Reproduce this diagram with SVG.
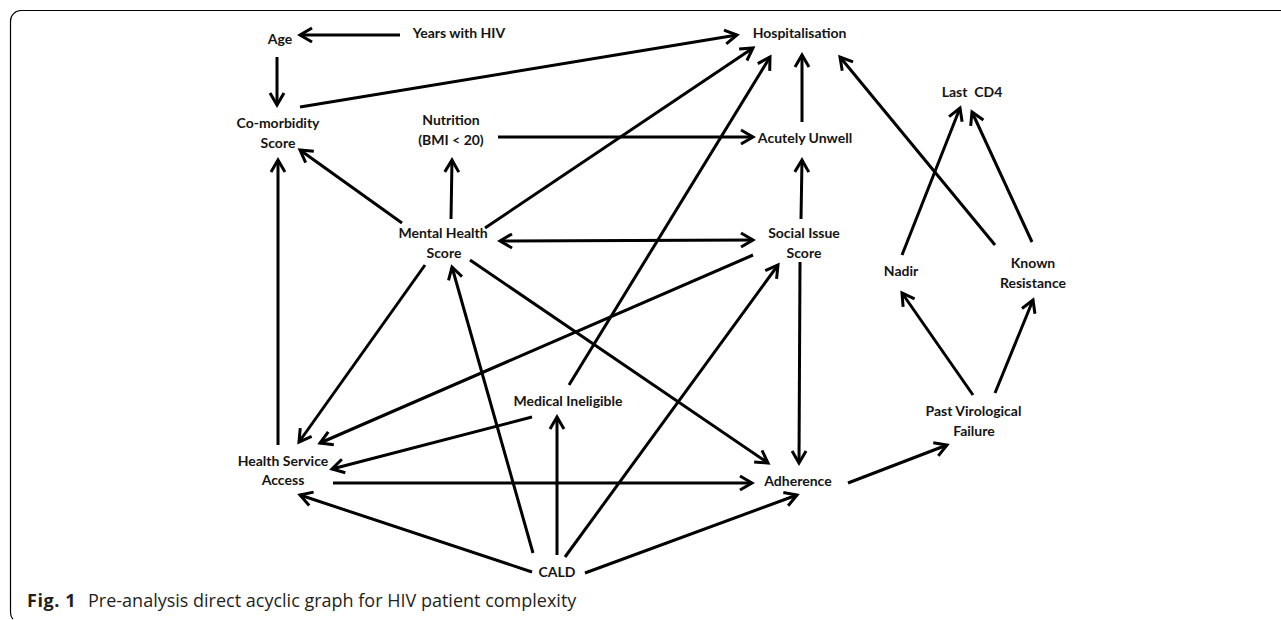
<svg xmlns="http://www.w3.org/2000/svg" width="1281" height="620" viewBox="0 0 1281 620">
<style>
.n text{font-family:Lato,"Liberation Sans",sans-serif;font-weight:bold;font-size:14px;fill:#141414;text-anchor:middle;white-space:pre}
.e line{stroke:#000;stroke-width:3;fill:none;marker-end:url(#ah)}
.cap{font-family:"Open Sans","Noto Sans",sans-serif;font-size:18px;fill:#231f20}
</style>
<defs>
<marker id="ah" markerUnits="userSpaceOnUse" viewBox="-16 -10 20 20" markerWidth="20" markerHeight="20" refX="0" refY="0" orient="auto-start-reverse">
<path d="M-12,-7 L0,0 L-12,7" fill="none" stroke="#000" stroke-width="3"/>
</marker>
</defs>
<rect width="1281" height="620" fill="#fff"/>
<path d="M1281,10.5 H21 A10.5,10.5 0 0 0 10.5,21 V611 Q10.5,617 13,619" fill="none" stroke="#000" stroke-width="1.2"/>
<g class="e" id="connectors">
<line x1="400" y1="35" x2="300" y2="35"/>
<line x1="277" y1="57" x2="277" y2="105"/>
<line x1="300" y1="107" x2="737" y2="35"/>
<line x1="402" y1="223" x2="300" y2="150"/>
<line x1="451" y1="219" x2="452" y2="160"/>
<line x1="485" y1="228" x2="753" y2="48"/>
<line x1="498" y1="137" x2="753" y2="137"/>
<line x1="802" y1="122" x2="802" y2="55"/>
<line x1="801" y1="219" x2="802" y2="160"/>
<line x1="500" y1="241" x2="753" y2="240" marker-start="url(#ah)"/>
<line x1="569" y1="385" x2="770" y2="57"/>
<line x1="995" y1="245" x2="840" y2="57"/>
<line x1="902" y1="255" x2="960" y2="108"/>
<line x1="1032" y1="242" x2="972" y2="112"/>
<line x1="973" y1="395" x2="902" y2="293"/>
<line x1="995" y1="393" x2="1033" y2="300"/>
<line x1="848" y1="483" x2="947" y2="445"/>
<line x1="800" y1="262" x2="799" y2="463"/>
<line x1="753" y1="255" x2="320" y2="443"/>
<line x1="425" y1="265" x2="299" y2="442"/>
<line x1="470" y1="260" x2="768" y2="463"/>
<line x1="533" y1="553" x2="452" y2="267"/>
<line x1="565" y1="557" x2="778" y2="265"/>
<line x1="557" y1="555" x2="557" y2="417"/>
<line x1="532" y1="572" x2="300" y2="495"/>
<line x1="585" y1="573" x2="797" y2="495"/>
<line x1="333" y1="483" x2="752" y2="483"/>
<line x1="278" y1="445" x2="278" y2="160"/>
<line x1="532" y1="417" x2="332" y2="469"/>
</g>
<g class="n" id="age"><text x="280" y="44">Age</text></g>
<g class="n" id="years"><text x="459" y="38">Years with HIV</text></g>
<g class="n" id="hosp"><text x="799.5" y="38">Hospitalisation</text></g>
<g class="n" id="comorb"><text x="278" y="128">Co-morbidity</text><text x="278" y="148">Score</text></g>
<g class="n" id="nutrition"><text x="451" y="125">Nutrition</text><text x="451" y="145">(BMI &lt; 20)</text></g>
<g class="n" id="acute"><text x="805" y="143">Acutely Unwell</text></g>
<g class="n" id="cd4"><text x="972" y="97">Last  CD4</text></g>
<g class="n" id="mental"><text x="443" y="238">Mental Health</text><text x="444" y="258">Score</text></g>
<g class="n" id="social"><text x="804" y="238">Social Issue</text><text x="804" y="258">Score</text></g>
<g class="n" id="nadir"><text x="901" y="276">Nadir</text></g>
<g class="n" id="resist"><text x="1033" y="268">Known</text><text x="1033" y="288">Resistance</text></g>
<g class="n" id="medinel"><text x="568" y="406">Medical Ineligible</text></g>
<g class="n" id="pvf"><text x="973.5" y="416">Past Virological</text><text x="974" y="436">Failure</text></g>
<g class="n" id="hsa"><text x="283" y="466">Health Service</text><text x="283" y="485">Access</text></g>
<g class="n" id="adher"><text x="798" y="486">Adherence</text></g>
<g class="n" id="cald"><text x="557" y="577">CALD</text></g>
<g id="caption">
<text class="cap" x="27" y="607" font-weight="bold" letter-spacing="0.6">Fig. 1</text>
<text class="cap" x="88" y="607">Pre-analysis direct acyclic graph for HIV patient complexity</text>
</g>
</svg>
